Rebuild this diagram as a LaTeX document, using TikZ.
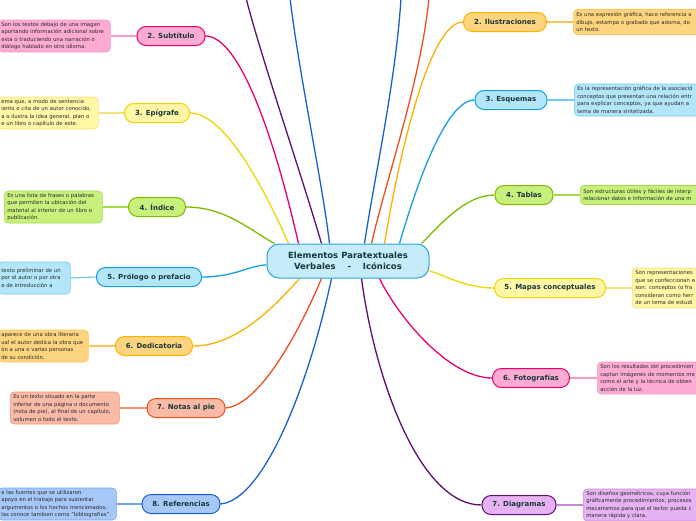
\documentclass[tikz,border=0pt]{standalone}
\usepackage{fontspec}
\setmainfont{DejaVu Sans}
\usetikzlibrary{backgrounds}
\definecolor{pinkfill}{HTML}{FDABD3}   \definecolor{pinkline}{HTML}{E8006E}   \definecolor{pinkedge}{HTML}{F79AC6}
\definecolor{yellowfill}{HTML}{FFF6A6} \definecolor{yellowline}{HTML}{EED500} \definecolor{yellowedge}{HTML}{F3E27C}
\definecolor{greenfill}{HTML}{C8F07C}  \definecolor{greenline}{HTML}{7DBA00}  \definecolor{greenedge}{HTML}{A5D94A}
\definecolor{skyfill}{HTML}{B3E5FB}    \definecolor{skyline}{HTML}{139FE0}    \definecolor{skyedge}{HTML}{74C9F0}
\definecolor{orangefill}{HTML}{FFD47E} \definecolor{orangeline}{HTML}{FBB200} \definecolor{orangeedge}{HTML}{F9C658}
\definecolor{salmonfill}{HTML}{F9BBA6} \definecolor{salmonline}{HTML}{EF4E1E} \definecolor{salmonedge}{HTML}{F39274}
\definecolor{bluefill}{HTML}{A6C8F9}   \definecolor{blueline}{HTML}{1A5FD0}   \definecolor{blueedge}{HTML}{74A3EA}
\definecolor{purplefill}{HTML}{E6B2F2} \definecolor{purpleline}{HTML}{5E0E72} \definecolor{purpleedge}{HTML}{C58ADA}
\definecolor{hubfill}{HTML}{C6ECFC}    \definecolor{hubline}{HTML}{2BA2DC}
\definecolor{topictext}{HTML}{17383A}  \definecolor{notetext}{HTML}{2A2A2A}
\tikzset{%
  % Specifications for style of nodes:
           hub/.style = {rectangle, rounded corners=12pt, fill=hubfill, draw=hubline,
                         line width=1pt, minimum width=162pt, minimum height=34pt,
                         align=center, text=topictext, font=\fontsize{8.5}{11}\selectfont\bfseries},
          base/.style = {rectangle, rounded corners=9pt, line width=1pt, minimum height=19pt,
                         inner sep=0pt, text=topictext, font=\fontsize{7}{8}\selectfont\bfseries},
         topic/.style = {base, fill=#1fill, draw=#1line},
          note/.style = {rectangle, rounded corners=4pt, line width=0.6pt, fill=#1fill, draw=#1edge,
                         inner xsep=3pt, inner ysep=2pt, align=left, anchor=west,
                         minimum height=32pt, text=notetext, font=\fontsize{5.3}{7.5}\selectfont},
        branch/.style = {line width=1.3pt, draw=#1line},
          twig/.style = {line width=1.2pt, draw=#1edge},
}
\begin{document}
\begin{tikzpicture}[x=1pt, y=-1pt]
  \useasboundingbox (0,0) rectangle (696,520);
  % Specification of nodes (position, etc.)
  \node (centre)   [hub] at (348,261) {Elementos Paratextuales\\Verbales\ \ \ \ -\ \ \ \ Icónicos};

  \node (sub)      [topic=pink, minimum width=68pt]    at (171,36)  {2. Subtítulo};
  \node (epi)      [topic=yellow, minimum width=65pt]  at (157,113) {3. Epígrafe};
  \node (ind)      [topic=green, minimum width=57pt]   at (157,207) {4. Índice};
  \node (pro)      [topic=sky, minimum width=105pt]    at (149,277) {5. Prólogo o prefacio};
  \node (ded)      [topic=orange, minimum width=77pt]  at (154,346) {6. Dedicatoria};
  \node (not)      [topic=salmon, minimum width=78pt]  at (186,408) {7. Notas al pie};
  \node (ref)      [topic=blue, minimum width=78pt]    at (181,504) {8. Referencias};

  \node (ilu)      [topic=orange, minimum width=83pt]  at (505,22)  {2. Ilustraciones};
  \node (esq)      [topic=sky, minimum width=72pt]     at (511,100) {3. Esquemas};
  \node (tab)      [topic=green, minimum width=58pt]   at (524,195) {4. Tablas};
  \node (map)      [topic=yellow, minimum width=111pt] at (550,288) {5. Mapas conceptuales};
  \node (fot)      [topic=pink, minimum width=77pt]    at (531,378) {6. Fotografías};
  \node (dia)      [topic=purple, minimum width=74pt]  at (519,505) {7. Diagramas};

  % notes beside the topics
  \node (subnote)  [note=pink, text width=106pt]   at (-2,36)  {Son los textos debajo de una imagen\\aportando información adicional sobre\\esta o traduciendo una narración o\\diálogo hablado en otro idioma.};
  \node (epinote)  [note=yellow, text width=94pt]  at (-2,113) {ema que, a modo de sentencia\\iento o cita de un autor conocido,\\a o ilustra la idea general, plan o\\e un libro o capítulo de este.};
  \node (indnote)  [note=green, text width=92pt]   at (4,207)  {Es una lista de frases o palabras\\que permiten la ubicación del\\material al interior de un libro o\\publicación.};
  \node (pronote)  [note=sky, text width=66pt]     at (-2,278) {texto preliminar de un\\ por el autor o por otra\\e de introducción a};
  \node (dednote)  [note=orange, text width=84pt]  at (-2,346) {aparece de una obra literaria\\ual el autor dedica la obra que\\ón a una o varias personas\\ de su condición.};
  \node (notnote)  [note=salmon, text width=103pt] at (10,408) {Es un texto situado en la parte\\inferior de una página o documento\\(nota de pie), al final de un capítulo,\\volumen o todo el texto.};
  \node (refnote)  [note=blue, text width=112pt]   at (-2,504) {e las fuentes que se utilizaron\\ apoyo en el trabajo para sustentar\\ argumentos o los hechos mencionados,\\las conoce tambien como "bibliografías".};

  \node (ilunote)  [note=orange, text width=200pt, minimum height=25pt] at (573,22) {Es una expresión gráfica, hace referencia a\\dibujo, estampa o grabado que adorna, do\\un texto.};
  \node (esqnote)  [note=sky, text width=200pt]    at (574,100) {Es la representación gráfica de la asociació\\conceptos que presentan una relación entr\\para explicar conceptos, ya que ayudan a\\tema de manera sintetizada.};
  \node (tabnote)  [note=green, text width=200pt, minimum height=19pt] at (580,195) {Son estructuras útiles y fáciles de interp\\relacionar datos e información de una m};
  \node (mapnote)  [note=yellow, text width=200pt, minimum height=40pt] at (632,288) {Son representaciones\\que se confeccionan e\\son: conceptos (o fra\\consideran como herr\\de un tema de estudi};
  \node (fotnote)  [note=pink, text width=200pt]   at (597,378) {Son los resultados del procedimien\\captan imágenes de momentos me\\como el arte y la técnica de obten\\acción de la luz.};
  \node (dianote)  [note=purple, text width=200pt] at (583,505) {Son diseños geométricos, cuya función\\gráficamente procedimientos, procesos\\mecanismos para que el lector pueda c\\manera rápida y clara.};

  % branches leaving the picture at the top
  \coordinate (upA) at (246,-2);
  \coordinate (upB) at (290,-2);
  \coordinate (upC) at (401,-2);
  \coordinate (upD) at (429,-2);

  \begin{pgfonlayer}{background}
  \draw[branch=purple] (upA) .. controls (262,60) and (300,170) .. ([xshift=55pt]centre.north west);
  \draw[branch=blue]   (upB) .. controls (300,80) and (322,180) .. ([xshift=63pt]centre.north west);
  \draw[branch=blue]   (upC) .. controls (396,80) and (374,180) .. ([xshift=-65pt]centre.north east);
  \draw[branch=salmon] (upD) .. controls (421,80) and (386,180) .. ([xshift=-58pt]centre.north east);

  \draw[branch=pink]   (sub.east) .. controls (240,36) and (275,140) .. ([xshift=32pt]centre.north west);
  \draw[branch=yellow] (epi.east) .. controls (225,113) and (265,190) .. ([xshift=22pt]centre.north west);
  \draw[branch=green]  (ind.east) .. controls (225,207) and (250,230) .. ([xshift=8pt]centre.north west);
  \draw[branch=sky]    (pro.east) .. controls (235,277) and (250,265) .. ([yshift=-4pt]centre.west);
  \draw[branch=orange] (ded.east) .. controls (240,346) and (280,300) .. ([xshift=33pt]centre.south west);
  \draw[branch=salmon] (not.east) .. controls (260,405) and (300,330) .. ([xshift=55pt]centre.south west);
  \draw[branch=blue]   (ref.east) .. controls (265,500) and (310,380) .. ([xshift=65pt]centre.south west);

  \draw[branch=orange] (ilu.west) .. controls (430,22) and (400,150) .. ([xshift=-45pt]centre.north east);
  \draw[branch=sky]    (esq.west) .. controls (445,100) and (415,190) .. ([xshift=-30pt]centre.north east);
  \draw[branch=green]  (tab.west) .. controls (465,195) and (440,225) .. ([xshift=-8pt]centre.north east);
  \draw[branch=yellow] (map.west) .. controls (465,288) and (445,275) .. ([yshift=-10pt]centre.east);
  \draw[branch=pink]   (fot.west) .. controls (450,378) and (400,320) .. ([xshift=-50pt]centre.south east);
  \draw[branch=purple] (dia.west) .. controls (420,505) and (375,380) .. ([xshift=-68pt]centre.south east);

  \draw[twig=pink]     (sub.west) -- (subnote.east);
  \draw[twig=yellow]   (epi.west) -- (epinote.east);
  \draw[twig=green]    (ind.west) -- (indnote.east);
  \draw[twig=sky]      (pro.west) -- (pronote.east);
  \draw[twig=orange]   (ded.west) -- (dednote.east);
  \draw[twig=salmon]   (not.west) -- (notnote.east);
  \draw[twig=blue]     (ref.west) -- (refnote.east);
  \draw[twig=orange]   (ilu.east) -- (ilunote.west);
  \draw[twig=sky]      (esq.east) -- (esqnote.west);
  \draw[twig=green]    (tab.east) -- (tabnote.west);
  \draw[twig=yellow]   (map.east) -- (mapnote.west);
  \draw[twig=pink]     (fot.east) -- (fotnote.west);
  \draw[twig=purple]   (dia.east) -- (dianote.west);
  \end{pgfonlayer}
\end{tikzpicture}
\end{document}
